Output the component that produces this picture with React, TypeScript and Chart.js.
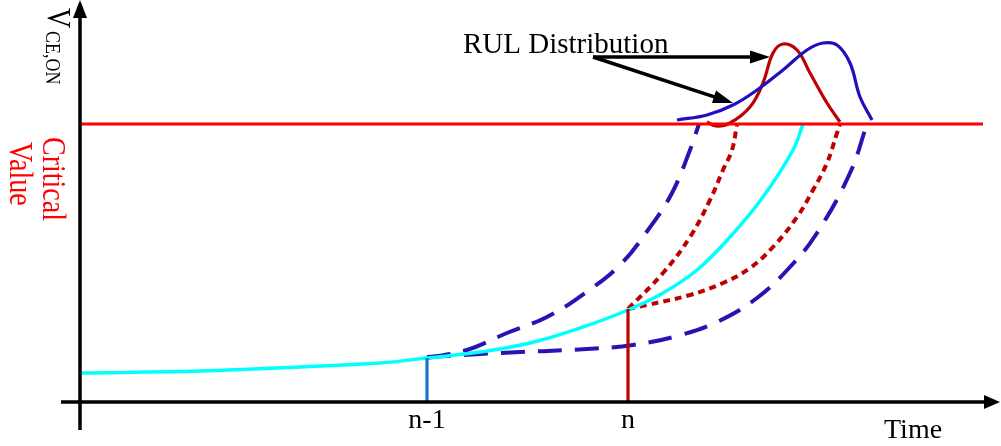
import React, { useEffect, useRef } from "react";
import { Chart, registerables } from "chart.js";

Chart.register(...registerables);

// ---- data (time units on x, V_CE,ON units on y) ----
const criticalValue = 27.8;
const criticalLineEnd = 90.3;
const tickLabels = ["n-1", "n"];
const tickTimes = [34.7, 54.8];
const tickLevels = [4.4, 9.3];

const measuredPath: number[][] = [
  [0, 2.9], [12, 3.1], [22, 3.5], [30, 3.9], [34.7, 4.4], [40, 5.0], [45, 5.9],
  [50, 7.4], [54.8, 9.2], [58.3, 10.9], [61.7, 13.2], [65, 16.5], [68.3, 20.5],
  [71.3, 25.2], [72.3, 27.8],
];
const upperBoundPrev: number[][] = [
  [34.7, 4.4], [38.7, 5.2], [42.7, 6.9], [46.7, 8.5], [50.5, 10.9], [54, 13.7],
  [56.8, 17.2], [59.2, 20.9], [61, 25.2], [61.9, 27.8],
];
const lowerBoundPrev: number[][] = [
  [34.7, 4.5], [42, 4.9], [50.7, 5.3], [55.3, 5.7], [59.7, 6.6], [63.7, 8.0],
  [67.7, 10.4], [71, 13.5], [73.7, 16.9], [77, 22.9], [78.7, 27.8],
];
const upperBoundCur: number[][] = [
  [54.8, 9.3], [58.3, 12.9], [61, 16.5], [63, 20.2], [64.3, 23.2], [65.2, 25.2], [65.7, 27.8],
];
const lowerBoundCur: number[][] = [
  [54.8, 9.3], [56.7, 9.7], [61, 10.7], [64.3, 11.9], [67, 13.4], [69.3, 15.5],
  [71.7, 18.5], [73.3, 21.2], [74.7, 23.9], [75.7, 26.9], [76, 27.8],
];
const rulDistPrev: number[][] = [
  [59.7, 28.2], [62.7, 28.7], [65.3, 29.7], [67.7, 31.2], [70.3, 33.2], [72.7, 35.2],
  [74.3, 35.9], [75.7, 35.7], [77, 33.9], [78, 30.5], [79.2, 28.2],
];
const rulDistCur: number[][] = [
  [62.7, 28.0], [63.6, 27.6], [65, 27.9], [67, 29.5], [68.3, 31.9], [69.3, 34.9],
  [70.3, 35.8], [71.7, 35.2], [73, 32.9], [74.7, 29.9], [76, 28.0],
];
const annotationFrom = [51.3, 34.5];
const annotationTargets: number[][] = [[69, 34.5], [65.3, 29.9]];

const pts = (a: number[][]) => a.map(([x, y]) => ({ x, y }));

const SERIF = '"Liberation Serif", "DejaVu Serif", serif';

function arrowHead(ctx: CanvasRenderingContext2D, x1: number, y1: number, x2: number, y2: number, len: number, half: number, color: string) {
  const a = Math.atan2(y2 - y1, x2 - x1);
  ctx.save();
  ctx.fillStyle = color;
  ctx.beginPath();
  ctx.moveTo(x2, y2);
  ctx.lineTo(x2 - len * Math.cos(a) + half * Math.sin(a), y2 - len * Math.sin(a) - half * Math.cos(a));
  ctx.lineTo(x2 - len * Math.cos(a) - half * Math.sin(a), y2 - len * Math.sin(a) + half * Math.cos(a));
  ctx.closePath();
  ctx.fill();
  ctx.restore();
}

function rotText(ctx: CanvasRenderingContext2D, text: string, px: number, py: number, size: number, color: string, sy: number) {
  ctx.save();
  ctx.translate(px, py);
  ctx.rotate(Math.PI / 2);
  ctx.scale(1, sy);
  ctx.font = `${size}px ${SERIF}`;
  ctx.fillStyle = color;
  ctx.textAlign = "left";
  ctx.textBaseline = "alphabetic";
  ctx.fillText(text, 0, 0);
  ctx.restore();
}

const decorPlugin = {
  id: "decor",
  afterDatasetsDraw(chart: any) {
    const ctx: CanvasRenderingContext2D = chart.ctx;
    const xs = chart.scales.x;
    const ys = chart.scales.y;
    const X = (v: number) => xs.getPixelForValue(v);
    const Y = (v: number) => ys.getPixelForValue(v);
    ctx.save();
    // axes
    ctx.strokeStyle = "#000";
    ctx.lineWidth = 3.5;
    ctx.lineCap = "butt";
    ctx.beginPath();
    ctx.moveTo(X(-1.9), Y(0));
    ctx.lineTo(X(90.5), Y(0));
    ctx.moveTo(X(0), Y(-2.8));
    ctx.lineTo(X(0), Y(38.5));
    ctx.stroke();
    arrowHead(ctx, X(80), Y(0), X(92.0), Y(0), 16, 7, "#000");
    arrowHead(ctx, X(0), Y(30), X(0), Y(40.2), 18, 7, "#000");

    // annotation arrows
    ctx.lineWidth = 3.5;
    const fx = X(annotationFrom[0]);
    const fy = Y(annotationFrom[1]);
    annotationTargets.forEach(([tx, ty]) => {
      const ex = X(tx);
      const ey = Y(ty);
      const a = Math.atan2(ey - fy, ex - fx);
      ctx.beginPath();
      ctx.moveTo(fx, fy);
      ctx.lineTo(ex - 14 * Math.cos(a), ey - 14 * Math.sin(a));
      ctx.stroke();
      arrowHead(ctx, fx, fy, ex, ey, 20, 6.5, "#000");
    });

    // texts
    ctx.fillStyle = "#000";
    ctx.font = `29px ${SERIF}`;
    ctx.textBaseline = "alphabetic";
    ctx.textAlign = "left";
    ctx.fillText("RUL Distribution", X(38.3), Y(34.9));

    ctx.font = `28px ${SERIF}`;
    ctx.textAlign = "center";
    tickLabels.forEach((t, i) => {
      ctx.fillText(t, X(tickTimes[i]), Y(-2.6));
    });
    ctx.textAlign = "left";
    ctx.fillText("Time", X(80.4), Y(-3.6));

    rotText(ctx, "V", X(-3.2), Y(39.4), 28, "#000", 1.2);
    rotText(ctx, "CE,ON", X(-3.4), Y(37.1), 18, "#000", 1.2);
    rotText(ctx, "Critical", X(-3.7), Y(26.5), 28, "#ff0000", 1.2);
    rotText(ctx, "Value", X(-7.0), Y(26.0), 28, "#ff0000", 1.2);
    ctx.restore();
  },
};

export default function App() {
  const ref = useRef<HTMLCanvasElement | null>(null);
  useEffect(() => {
    document.body.style.margin = "0";
    const canvas = ref.current;
    if (!canvas) return;
    const line = (data: number[][], color: string, width: number, dash: number[] = [], tension = 0.4) => ({
      data: pts(data),
      showLine: true,
      borderColor: color,
      backgroundColor: color,
      borderWidth: width,
      borderDash: dash,
      pointRadius: 0,
      fill: false,
      cubicInterpolationMode: "default",
      tension,
    });
    const chart = new Chart(canvas, {
      type: "scatter",
      data: {
        datasets: [
          line([[0, criticalValue], [criticalLineEnd, criticalValue]], "#ff0000", 3.2, [], 0),
          line([[tickTimes[0], 0], [tickTimes[0], tickLevels[0]]], "#1c75c4", 3.2, [], 0),
          line([[tickTimes[1], 0], [tickTimes[1], tickLevels[1]]], "#c00000", 3.2, [], 0),
          line(measuredPath, "#00ffff", 3.5),
          line(upperBoundPrev, "#2a12b3", 4, [24, 13]),
          line(lowerBoundPrev, "#2a12b3", 4, [24, 13]),
          line(upperBoundCur, "#c00000", 4, [7, 5]),
          line(lowerBoundCur, "#c00000", 4, [7, 5]),
          line(rulDistPrev, "#1f10bf", 3.2),
          line(rulDistCur, "#c00000", 3.2),
        ] as any,
      },
      options: {
        animation: false,
        responsive: false,
        maintainAspectRatio: false,
        layout: { padding: 0 },
        plugins: { legend: { display: false }, tooltip: { enabled: false } },
        scales: {
          x: { type: "linear", min: -8, max: 92.1, display: false },
          y: { type: "linear", min: -4.4, max: 40.2, display: false },
        },
      },
      plugins: [decorPlugin],
    } as any);
    return () => chart.destroy();
  }, []);
  return (
    <div style={{ width: 1001, height: 446, background: "#fff" }}>
      <canvas ref={ref} width={1001} height={446} style={{ display: "block" }} />
    </div>
  );
}
